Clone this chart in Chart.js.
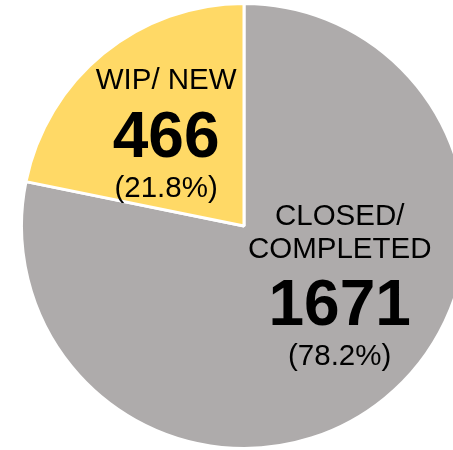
<!DOCTYPE html>
<html lang="en">
<head>
  <meta charset="UTF-8" />
  <title>WIP vs Closed</title>
  <script src="https://cdn.jsdelivr.net/npm/chart.js"></script>
  <style>
    html, body { margin: 0; padding: 0; background: #fff; overflow: hidden; }
    #wrap { width: 453px; height: 450px; overflow: hidden; position: relative; }
    canvas { position: absolute; left: 0; top: 0; }
  </style>
</head>
<body>
  <div id="wrap">
    <canvas id="pieChart" width="488" height="450"></canvas>
  </div>

  <script>
    // data
    const categories = [['CLOSED/', 'COMPLETED'], ['WIP/ NEW']];
    const counts = [1671, 466];
    const sliceColors = ['#AEABAB', '#FFD966'];

    const total = counts.reduce((a, b) => a + b, 0);
    const percents = counts.map(v => (v / total * 100).toFixed(1) + '%');

    // label placement relative to pie centre, in units of the radius
    const labelSpots = [
      { dx: 0.43, dy: [-0.005, 0.145, 0.445, 0.625] },
      { dx: -0.35, dy: [-0.615, -0.31, -0.13] }
    ];

    const FONT = '"Liberation Sans", Arial, sans-serif';

    const sliceLabels = {
      id: 'sliceLabels',
      afterDatasetsDraw(chart) {
        const ctx = chart.ctx;
        const arcs = chart.getDatasetMeta(0).data;
        ctx.save();
        ctx.fillStyle = '#000';
        ctx.textAlign = 'center';
        ctx.textBaseline = 'alphabetic';
        arcs.forEach((arc, i) => {
          const r = arc.outerRadius;
          const spot = labelSpots[i];
          const x = arc.x + spot.dx * r;
          const lines = categories[i].map(t => ({ t, f: '29.5px ' + FONT }));
          lines.push({ t: String(counts[i]), f: 'bold 64px ' + FONT });
          lines.push({ t: '(' + percents[i] + ')', f: '29.5px ' + FONT });
          lines.forEach((ln, k) => {
            ctx.font = ln.f;
            ctx.fillText(ln.t, x, arc.y + spot.dy[k] * r);
          });
        });
        ctx.restore();
      }
    };

    new Chart(document.getElementById('pieChart'), {
      type: 'pie',
      data: {
        labels: categories.map(c => c.join(' ')),
        datasets: [{
          data: counts,
          backgroundColor: sliceColors,
          borderColor: '#ffffff',
          borderWidth: 3
        }]
      },
      options: {
        responsive: false,
        animation: false,
        layout: { padding: { top: 2, bottom: 0, left: 0, right: 0 } },
        plugins: {
          legend: { display: false },
          tooltip: { enabled: false }
        }
      },
      plugins: [sliceLabels]
    });
  </script>
</body>
</html>
